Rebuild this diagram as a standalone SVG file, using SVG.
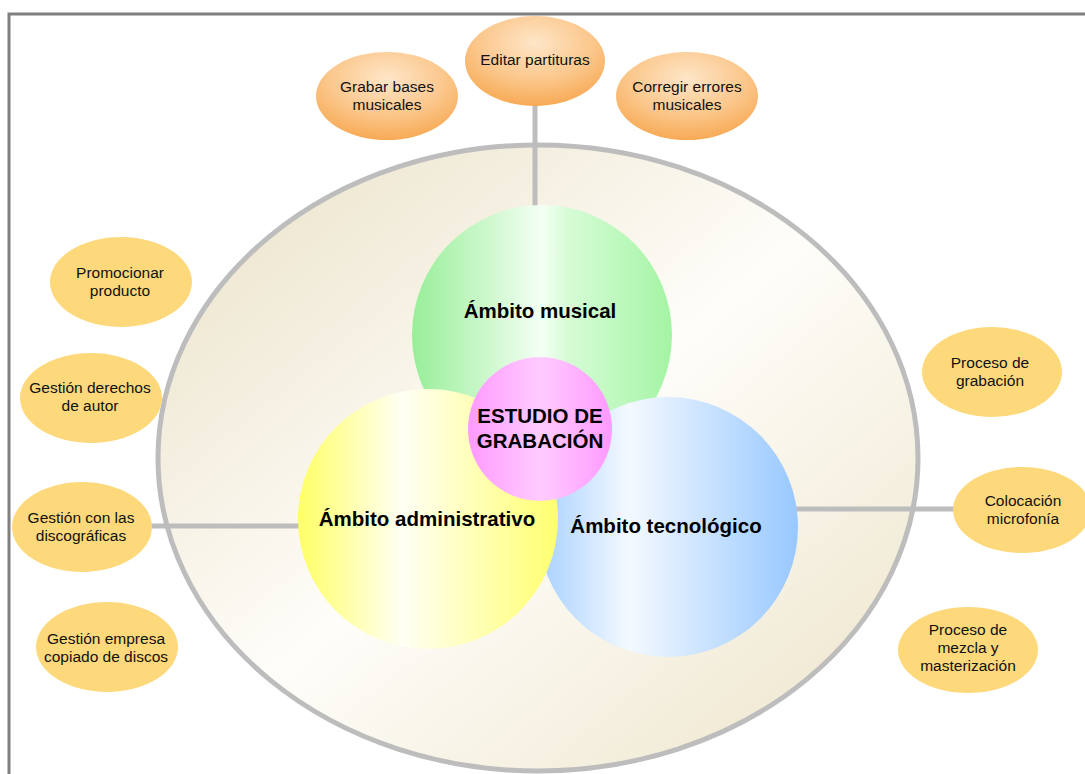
<svg xmlns="http://www.w3.org/2000/svg" width="1085" height="774" viewBox="0 0 1085 774">
<defs>
<linearGradient id="bigG" x1="0" y1="0" x2="1" y2="1">
<stop offset="0" stop-color="#e9e0c5"/>
<stop offset="0.5" stop-color="#fefdf9"/>
<stop offset="1" stop-color="#ece3c8"/>
</linearGradient>
<linearGradient id="greenG" x1="0" y1="0" x2="1" y2="0">
<stop offset="0" stop-color="#98ee98"/>
<stop offset="0.5" stop-color="#f4fff4"/>
<stop offset="0.6" stop-color="#d6fcd6"/>
<stop offset="1" stop-color="#a4f4a4"/>
</linearGradient>
<linearGradient id="yellowG" x1="0" y1="0" x2="1" y2="0">
<stop offset="0" stop-color="#ffff66"/>
<stop offset="0.4" stop-color="#fffff4"/>
<stop offset="1" stop-color="#ffff70"/>
</linearGradient>
<linearGradient id="blueG" x1="0" y1="0" x2="1" y2="0">
<stop offset="0" stop-color="#a6d0ff"/>
<stop offset="0.35" stop-color="#f4f9ff"/>
<stop offset="1" stop-color="#98c8ff"/>
</linearGradient>
<linearGradient id="pinkG" x1="0" y1="0" x2="1" y2="0">
<stop offset="0" stop-color="#ff99ff"/>
<stop offset="0.5" stop-color="#ffccff"/>
<stop offset="1" stop-color="#ff99ff"/>
</linearGradient>
<radialGradient id="orangeG" cx="0.5" cy="0.3" r="0.7">
<stop offset="0" stop-color="#fee6c8"/>
<stop offset="0.6" stop-color="#fbc68a"/>
<stop offset="1" stop-color="#f7aa55"/>
</radialGradient>
<style>
.frame{fill:none;stroke:#808080;stroke-width:3}
.conn{stroke:#bdbdbd;stroke-width:5;fill:none}
.orange{fill:url(#orangeG)}
.yel{fill:#fdd97c}
.t{font-family:"Liberation Sans",Arial,sans-serif;font-size:15.5px;fill:#111;text-anchor:middle}
.b{font-family:"Liberation Sans",Arial,sans-serif;font-size:20.5px;font-weight:bold;fill:#000;text-anchor:middle}
</style>
</defs>
<rect class="frame" x="9" y="14" width="1100" height="800"/>
<g id="estudio-outer">
<ellipse cx="538" cy="458" rx="380" ry="313" fill="url(#bigG)" stroke="#bdbdbd" stroke-width="5"/>
</g>
<g id="connectors">
<line class="conn" x1="535" y1="105" x2="535" y2="207"/>
<line class="conn" x1="150" y1="526" x2="300" y2="526"/>
<line class="conn" x1="795" y1="509" x2="956" y2="509"/>
</g>
<g id="ambito-musical">
<circle cx="542" cy="335" r="130" fill="url(#greenG)"/>
<text class="b" x="540" y="318">Ámbito musical</text>
</g>
<g id="ambito-tecnologico">
<circle cx="668" cy="527" r="130" fill="url(#blueG)"/>
<text class="b" x="666" y="533">Ámbito tecnológico</text>
</g>
<g id="ambito-administrativo">
<circle cx="428" cy="519" r="130" fill="url(#yellowG)"/>
<text class="b" x="427" y="526">Ámbito administrativo</text>
</g>
<g id="estudio">
<circle cx="540" cy="429" r="72" fill="url(#pinkG)"/>
<text class="b" x="540" y="423">ESTUDIO DE</text>
<text class="b" x="540" y="448">GRABACIÓN</text>
</g>
<g id="editar-partituras">
<ellipse class="orange" cx="535" cy="61" rx="70" ry="45"/>
<text class="t" x="535" y="65">Editar partituras</text>
</g>
<g id="grabar-bases">
<ellipse class="orange" cx="387" cy="96" rx="71" ry="44"/>
<text class="t" x="387" y="92">Grabar bases</text>
<text class="t" x="387" y="110">musicales</text>
</g>
<g id="corregir-errores">
<ellipse class="orange" cx="687" cy="96" rx="71" ry="44"/>
<text class="t" x="687" y="92">Corregir errores</text>
<text class="t" x="687" y="110">musicales</text>
</g>
<g id="promocionar">
<ellipse class="yel" cx="121" cy="282" rx="71" ry="45"/>
<text class="t" x="120" y="278">Promocionar</text>
<text class="t" x="120" y="296">producto</text>
</g>
<g id="derechos">
<ellipse class="yel" cx="91" cy="398" rx="71" ry="45"/>
<text class="t" x="90" y="393">Gestión derechos</text>
<text class="t" x="90" y="411">de autor</text>
</g>
<g id="discograficas">
<ellipse class="yel" cx="82" cy="527" rx="70" ry="45"/>
<text class="t" x="81" y="523">Gestión con las</text>
<text class="t" x="81" y="541">discográficas</text>
</g>
<g id="copiado">
<ellipse class="yel" cx="107" cy="647" rx="71" ry="45"/>
<text class="t" x="106" y="644">Gestión empresa</text>
<text class="t" x="106" y="662">copiado de discos</text>
</g>
<g id="grabacion">
<ellipse class="yel" cx="992" cy="372" rx="70" ry="45"/>
<text class="t" x="990" y="368">Proceso de</text>
<text class="t" x="990" y="386">grabación</text>
</g>
<g id="microfonia">
<ellipse class="yel" cx="1022" cy="510" rx="69" ry="43"/>
<text class="t" x="1023" y="506">Colocación</text>
<text class="t" x="1023" y="524">microfonía</text>
</g>
<g id="mezcla">
<ellipse class="yel" cx="968" cy="650" rx="70" ry="43"/>
<text class="t" x="968" y="635">Proceso de</text>
<text class="t" x="968" y="653">mezcla y</text>
<text class="t" x="968" y="671">masterización</text>
</g>
</svg>
